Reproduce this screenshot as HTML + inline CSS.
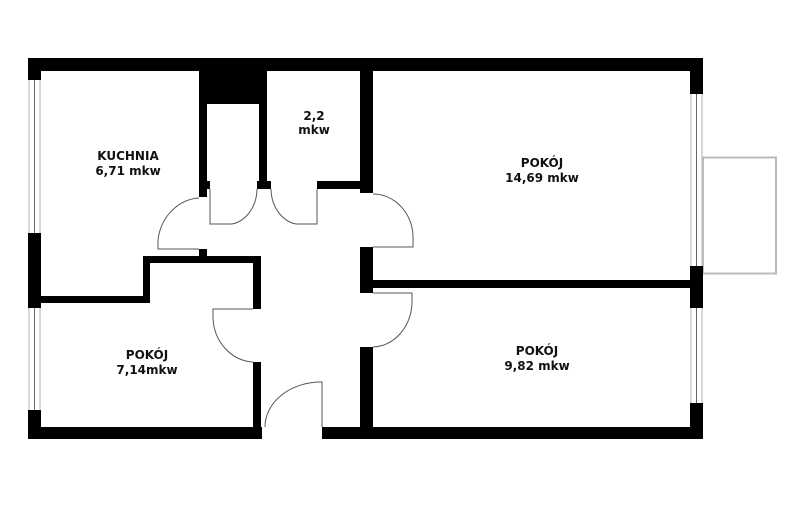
<!DOCTYPE html>
<html><head><style>
html,body{margin:0;padding:0;background:#fff;}
svg{display:block;}
text{font-family:"DejaVu Sans","Liberation Sans",sans-serif;font-weight:bold;font-size:12px;fill:#111;text-anchor:middle;}
</style></head><body>
<svg width="800" height="510" viewBox="0 0 800 510" xmlns="http://www.w3.org/2000/svg">
<rect width="800" height="510" fill="#fff"/>
<!-- windows left -->
<g stroke="#ccc" stroke-width="1.5" fill="none">
<line x1="29" y1="80" x2="29" y2="233"/><line x1="40" y1="80" x2="40" y2="233"/>
<line x1="29" y1="308" x2="29" y2="410"/><line x1="40" y1="308" x2="40" y2="410"/>
<line x1="691" y1="94" x2="691" y2="266"/><line x1="702" y1="94" x2="702" y2="266"/>
<line x1="691" y1="308" x2="691" y2="403"/><line x1="702" y1="308" x2="702" y2="403"/>
</g>
<g stroke="#666" stroke-width="1" fill="none">
<line x1="34.5" y1="80" x2="34.5" y2="233"/><line x1="34.5" y1="308" x2="34.5" y2="410"/>
<line x1="696.5" y1="94" x2="696.5" y2="266"/><line x1="696.5" y1="308" x2="696.5" y2="403"/>
</g>
<!-- balcony -->
<rect x="703" y="157.5" width="73" height="116" fill="none" stroke="#bbb" stroke-width="2"/>
<g fill="#000">
<!-- outer -->
<rect x="28" y="58" width="675" height="13"/>
<rect x="28" y="58" width="13" height="22"/>
<rect x="28" y="233" width="13" height="75"/>
<rect x="28" y="410" width="13" height="29"/>
<rect x="690" y="58" width="13" height="36"/>
<rect x="690" y="266" width="13" height="42"/>
<rect x="690" y="403" width="13" height="36"/>
<rect x="28" y="427" width="234" height="12"/>
<rect x="322" y="427" width="381" height="12"/>
<!-- kitchen / pokoj -->
<rect x="41" y="296" width="109" height="7"/>
<rect x="143" y="256" width="7" height="47"/>
<rect x="143" y="256" width="118" height="7"/>
<rect x="253" y="256" width="8" height="53"/>
<rect x="253" y="362" width="8" height="65"/>
<rect x="199" y="249" width="8" height="8"/>
<!-- chimney & closet -->
<rect x="199" y="71" width="68" height="33"/>
<rect x="199" y="104" width="8" height="93"/>
<rect x="199" y="181" width="11" height="8"/>
<rect x="259" y="104" width="8" height="84"/>
<rect x="257" y="181" width="14" height="8"/>
<rect x="259" y="71" width="8" height="40"/>
<rect x="317" y="181" width="56" height="8"/>
<!-- hall right -->
<rect x="360" y="71" width="13" height="122"/>
<rect x="360" y="247" width="13" height="46"/>
<rect x="373" y="280" width="317" height="8"/>
<rect x="360" y="347" width="13" height="92"/>
</g>
<!-- doors -->
<g stroke="#555" stroke-width="1" fill="none">
<path d="M199,198 A44 48 0 0 0 158,240 L158,249 L199,249"/>
<path d="M210,189 L210,224 L232,224 A30 36 0 0 0 257,189"/>
<path d="M271,189 A30 36 0 0 0 296,224 L317,224 L317,189"/>
<path d="M373,194 A40 44 0 0 1 413,236 L413,247 L373,247"/>
<path d="M373,293 L412,293 L412,302 A40 46 0 0 1 373,347"/>
<path d="M253,309 L213,309 L213,318 A42 46 0 0 0 253,362"/>
<path d="M322,427 L322,382 A56 45 0 0 0 265,427"/>
</g>
<text x="128" y="160">KUCHNIA</text>
<text x="128" y="175">6,71 mkw</text>
<text x="314" y="120">2,2</text>
<text x="314" y="134">mkw</text>
<text x="147" y="359">POKÓJ</text>
<text x="147" y="374">7,14mkw</text>
<text x="542" y="167">POKÓJ</text>
<text x="542" y="182">14,69 mkw</text>
<text x="537" y="355">POKÓJ</text>
<text x="537" y="370">9,82 mkw</text>
</svg>
</body></html>
